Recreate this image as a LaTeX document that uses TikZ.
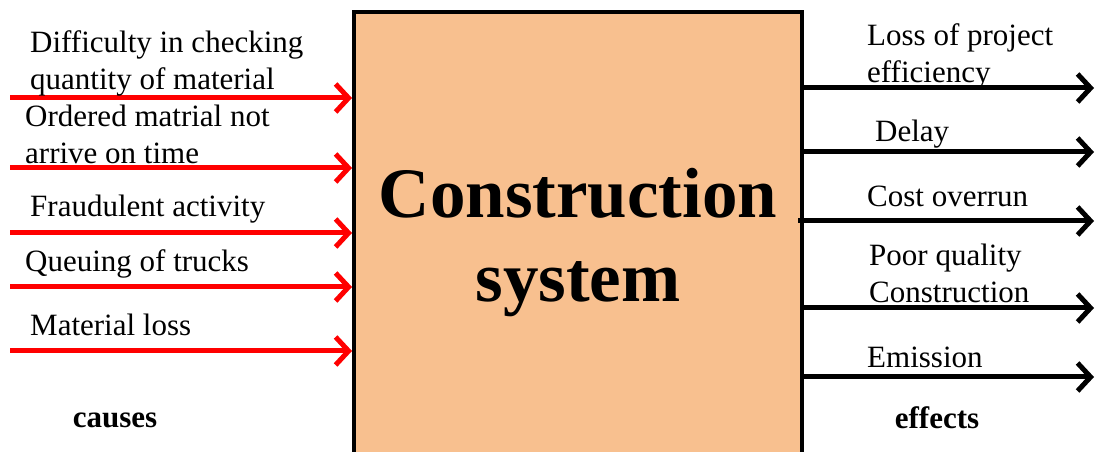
\documentclass[tikz,border=0pt]{standalone}
\usepackage{fontspec}
\setmainfont{Liberation Serif}
\usetikzlibrary{arrows.meta}
\definecolor{boxfill}{RGB}{248,192,143}
\tikzset{
	cause/.style={draw=red, line width=5pt, -{Straight Barb[length=13pt,width=28pt]}},
	effect/.style={draw=black, line width=5pt, -{Straight Barb[length=13pt,width=28pt]}},
	lbl/.style={anchor=base west, inner sep=0pt, align=left, font=\fontsize{31}{37}\selectfont},
	head/.style={anchor=base, inner sep=0pt, font=\fontsize{31}{37}\selectfont\bfseries}
}
\begin{document}
\begin{tikzpicture}[x=1pt,y=1pt]
		\useasboundingbox (0,0) rectangle (1096,452);
		\clip (0,0) rectangle (1096,452);
		% the system block
		\node[draw, line width=4pt, fill=boxfill, inner sep=0pt,
			minimum width=448pt, minimum height=448pt] (sys) at (578,216) {};
		\node[anchor=base, inner sep=0pt, align=center,
			font=\fontsize{71}{84}\selectfont\bfseries] (title) at (578,150)
			{Construction\\system};
		% causes
		\coordinate (i1) at (10,354);
		\coordinate (i2) at (10,284);
		\coordinate (i3) at (10,219);
		\coordinate (i4) at (10,165);
		\coordinate (i5) at (10,101);
		\draw[cause] (i1) -- (sys.west |- i1);
		\draw[cause] (i2) -- (sys.west |- i2);
		\draw[cause] (i3) -- (sys.west |- i3);
		\draw[cause] (i4) -- (sys.west |- i4);
		\draw[cause] (i5) -- (sys.west |- i5);
		\node[lbl] (c1) at (30,362) {Difficulty in checking\\quantity of material};
		\node[lbl] (c2) at (25,288) {Ordered matrial not\\arrive on time};
		\node[lbl] (c3) at (30,235) {Fraudulent activity};
		\node[lbl] (c4) at (25,180) {Queuing of trucks};
		\node[lbl] (c5) at (30,116) {Material loss};
		\node[head] (causes) at (115,24) {causes};
		% effects
		\coordinate (o1) at (1094,364);
		\coordinate (o2) at (1094,300);
		\coordinate (o3) at (1094,231);
		\coordinate (o4) at (1094,144);
		\coordinate (o5) at (1094,75);
		\draw[effect] (sys.east |- o1) -- (o1);
		\draw[effect] (sys.east |- o2) -- (o2);
		\draw[effect] ([xshift=-6pt]sys.east |- o3) -- (o3);
		\draw[effect] (sys.east |- o4) -- (o4);
		\draw[effect] (sys.east |- o5) -- (o5);
		\node[lbl] (e1) at (867,369) {Loss of project\\efficiency};
		\node[lbl] (e2) at (875,310) {Delay};
		\node[lbl] (e3) at (867,245) {Cost overrun};
		\node[lbl] (e4) at (869,149) {Poor quality\\Construction};
		\node[lbl] (e5) at (867,84) {Emission};
		\node[head] (effects) at (937,23) {effects};
	\end{tikzpicture}
\end{document}
